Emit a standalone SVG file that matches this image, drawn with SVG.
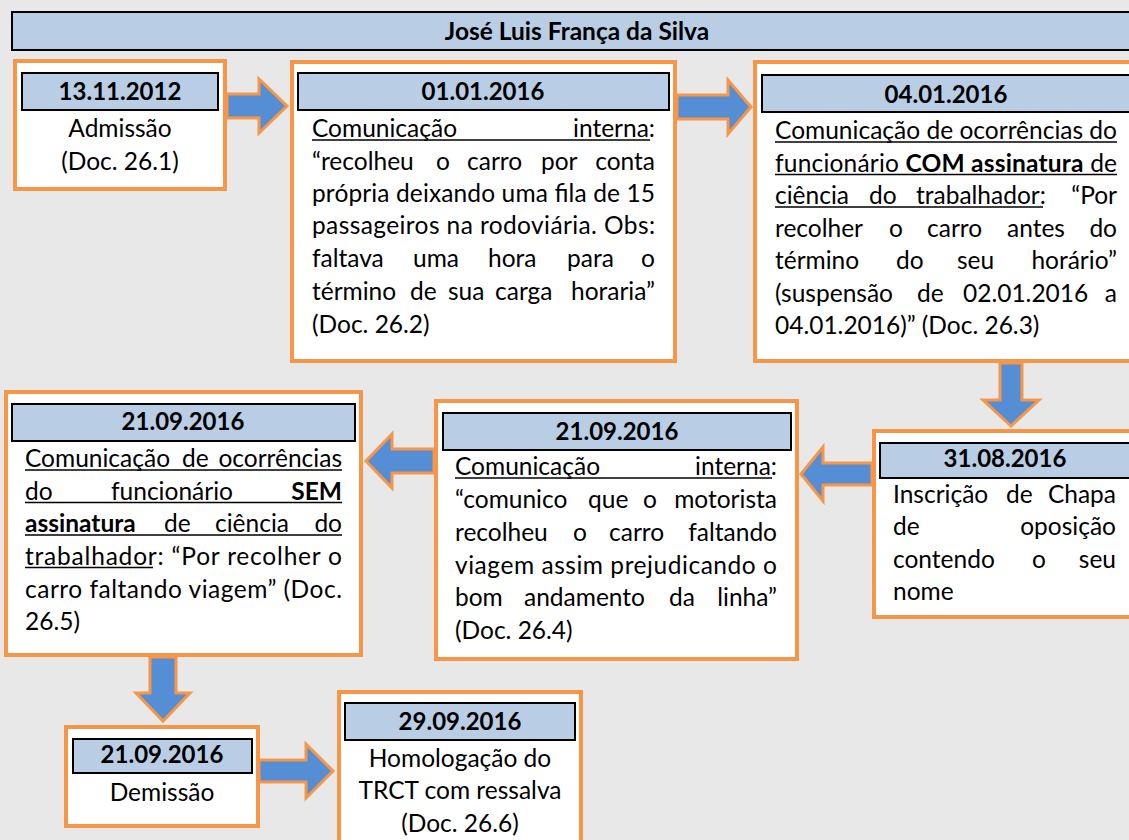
<svg xmlns="http://www.w3.org/2000/svg" width="1129" height="840" viewBox="0 0 1129 840">
<style>
.bg{fill:#e8e8e8}
.box{fill:#ffffff;stroke:#f79646;stroke-width:4}
.hdr{fill:#b9cde5;stroke:#000000;stroke-width:2}
.arr{fill:#558ed5;stroke:#f79646;stroke-width:3;stroke-linejoin:miter}
text{font-family:Lato,"Open Sans","Liberation Sans",sans-serif;font-size:24.5px;fill:#000}
.b{font-weight:bold}
.h{font-weight:bold;font-size:24px}
.c{text-anchor:middle}
.e{text-anchor:end}
.u{stroke:#000;stroke-width:1.5}
</style>
<rect class="bg" x="0" y="0" width="1129" height="840"/>

<g id="title">
<rect class="hdr" x="12" y="12" width="1130" height="38"/>
<text class="b c" x="577" y="40" font-size="27">José Luis França da Silva</text>
</g>

<g id="n1">
<rect class="box" x="15" y="61" width="210" height="128"/>
<rect class="hdr" x="22" y="73" width="196" height="37"/>
<text class="h c" x="120" y="100">13.11.2012</text>
<text class="c" x="120" y="137">Admissão</text>
<text class="c" x="120" y="170">(Doc. 26.1)</text>
</g>

<g id="n2">
<rect class="box" x="292" y="62" width="383" height="299"/>
<rect class="hdr" x="298" y="73" width="371" height="37"/>
<text class="h c" x="483" y="100">01.01.2016</text>
<text x="312" y="137">Comunicação</text><text class="e" x="655" y="137">interna:</text>
<line class="u" x1="312" y1="140" x2="650" y2="140"/>
<text y="170"><tspan x="312">“recolheu</tspan><tspan x="436">o</tspan><tspan x="467">carro</tspan><tspan x="541">por</tspan></text><text class="e" x="655" y="170">conta</text>
<text x="312" y="202" textLength="343" lengthAdjust="spacing">própria deixando uma fila de 15</text>
<text x="312" y="234" textLength="343" lengthAdjust="spacing">passageiros na rodoviária. Obs:</text>
<text y="267"><tspan x="312">faltava</tspan><tspan x="413">uma</tspan><tspan x="488">hora</tspan><tspan x="567">para</tspan></text><text class="e" x="655" y="267">o</text>
<text y="300"><tspan x="312">término</tspan><tspan x="410">de</tspan><tspan x="448">sua</tspan><tspan x="495">carga</tspan></text><text class="e" x="655" y="300">horaria”</text>
<text x="312" y="333">(Doc. 26.2)</text>
</g>

<g id="n3">
<rect class="box" x="755" y="62" width="400" height="299"/>
<rect class="hdr" x="762" y="75" width="400" height="37"/>
<text class="h c" x="946" y="103">04.01.2016</text>
<text x="775" y="139" textLength="342" lengthAdjust="spacing">Comunicação de ocorrências do</text>
<line class="u" x1="775" y1="142" x2="1117" y2="142"/>
<text x="775" y="171.5" textLength="342" lengthAdjust="spacing">funcionário <tspan class="b">COM assinatura</tspan> de</text>
<line class="u" x1="775" y1="174.5" x2="1117" y2="174.5"/>
<text y="204"><tspan x="775">ciência</tspan><tspan x="869">do</tspan><tspan x="916">trabalhador:</tspan></text><text class="e" x="1117" y="204">“Por</text>
<line class="u" x1="775" y1="207" x2="1043" y2="207"/>
<text y="236.5"><tspan x="775">recolher</tspan><tspan x="889">o</tspan><tspan x="927">carro</tspan><tspan x="1007">antes</tspan></text><text class="e" x="1117" y="236.5">do</text>
<text y="269"><tspan x="775">término</tspan><tspan x="896">do</tspan><tspan x="957">seu</tspan></text><text class="e" x="1117" y="269">horário”</text>
<text y="301.5"><tspan x="775">(suspensão</tspan><tspan x="917">de</tspan><tspan x="963">02.01.2016</tspan></text><text class="e" x="1117" y="301.5">a</text>
<text x="775" y="334">04.01.2016)” (Doc. 26.3)</text>
</g>

<g id="n4">
<rect class="box" x="874" y="431" width="300" height="186"/>
<rect class="hdr" x="880" y="443" width="300" height="35"/>
<text class="h c" x="1005" y="467">31.08.2016</text>
<text y="503"><tspan x="893">Inscrição</tspan><tspan x="1006">de</tspan></text><text class="e" x="1116" y="503">Chapa</text>
<text x="893" y="535">de</text><text class="e" x="1116" y="535">oposição</text>
<text y="568"><tspan x="893">contendo</tspan><tspan x="1032">o</tspan></text><text class="e" x="1116" y="568">seu</text>
<text x="893" y="600">nome</text>
</g>

<g id="n5">
<rect class="box" x="436" y="401" width="361" height="258"/>
<rect class="hdr" x="443" y="413" width="348" height="37"/>
<text class="h c" x="617" y="440">21.09.2016</text>
<text x="455" y="475">Comunicação</text><text class="e" x="777" y="475">interna:</text>
<line class="u" x1="455" y1="478" x2="772" y2="478"/>
<text y="508"><tspan x="455">“comunico</tspan><tspan x="588">que</tspan><tspan x="643">o</tspan></text><text class="e" x="777" y="508">motorista</text>
<text y="541"><tspan x="455">recolheu</tspan><tspan x="573">o</tspan><tspan x="609">carro</tspan></text><text class="e" x="777" y="541">faltando</text>
<text x="455" y="573.5" textLength="322" lengthAdjust="spacing">viagem assim prejudicando o</text>
<text y="606"><tspan x="455">bom</tspan><tspan x="524">andamento</tspan><tspan x="669">da</tspan></text><text class="e" x="777" y="606">linha”</text>
<text x="455" y="639">(Doc. 26.4)</text>
</g>

<g id="n6">
<rect class="box" x="6" y="392" width="355" height="263"/>
<rect class="hdr" x="12" y="404" width="343" height="37"/>
<text class="h c" x="183" y="430">21.09.2016</text>
<text y="467"><tspan x="25">Comunicação</tspan><tspan x="182">de</tspan></text><text class="e" x="342" y="467">ocorrências</text>
<line class="u" x1="25" y1="470" x2="342" y2="470"/>
<text y="499.5"><tspan x="25">do</tspan><tspan x="111">funcionário</tspan></text><text class="b e" x="342" y="499.5">SEM</text>
<line class="u" x1="25" y1="502.5" x2="342" y2="502.5"/>
<text y="532"><tspan x="25" class="b">assinatura</tspan><tspan x="164">de</tspan><tspan x="215">ciência</tspan></text><text class="e" x="342" y="532">do</text>
<line class="u" x1="25" y1="535" x2="342" y2="535"/>
<text x="25" y="564.5" textLength="317" lengthAdjust="spacing">trabalhador: “Por recolher o</text>
<line class="u" x1="25" y1="567.5" x2="153" y2="567.5"/>
<text x="25" y="597.5" textLength="317" lengthAdjust="spacing">carro faltando viagem” (Doc.</text>
<text x="25" y="630">26.5)</text>
</g>

<g id="n7">
<rect class="box" x="66" y="727" width="192" height="99"/>
<rect class="hdr" x="73" y="739" width="179" height="34"/>
<text class="h c" x="162" y="763">21.09.2016</text>
<text class="c" x="162" y="801">Demissão</text>
</g>

<g id="n8">
<rect class="box" x="339" y="692" width="242" height="200"/>
<rect class="hdr" x="345" y="703" width="230" height="37"/>
<text class="h c" x="460" y="730">29.09.2016</text>
<text class="c" x="460" y="767">Homologação do</text>
<text class="c" x="460" y="799">TRCT com ressalva</text>
<text class="c" x="460" y="832">(Doc. 26.6)</text>
</g>

<g id="connectors">
<path class="arr" d="M227,94 H259 V79 L287,106 L259,133 V118 H227 Z"/>
<path class="arr" d="M677,95 H728 V80 L751,107 L728,134 V119 H677 Z"/>
<path class="arr" d="M1000,363 V400 H983 L1011,426 L1039,400 H1022 V363 Z"/>
<path class="arr" d="M872,463 H823 V447 L801,474 L823,501 V485 H872 Z"/>
<path class="arr" d="M434,449 H392 V434 L366,461 L392,488 V473 H434 Z"/>
<path class="arr" d="M150,657 V693 H136 L163,721 L190,693 H176 V657 Z"/>
<path class="arr" d="M259,760 H306 V744 L333,771 L306,798 V782 H259 Z"/>
</g>
</svg>
